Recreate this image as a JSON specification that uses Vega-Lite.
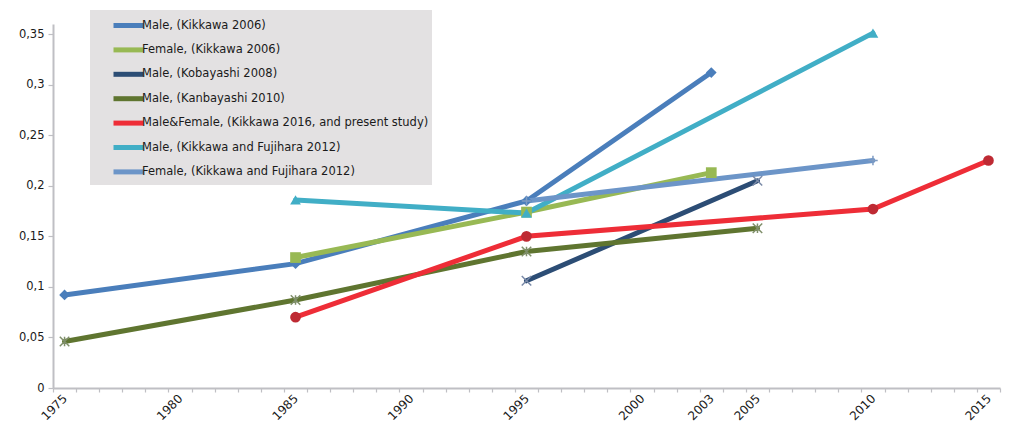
{
  "$schema": "https://vega.github.io/schema/vega-lite/v6.json",
  "width": 947,
  "height": 364,
  "autosize": "none",
  "padding": {"left": 53, "top": 24, "right": 32, "bottom": 46},
  "background": "white",
  "config": {
    "view": {"stroke": null},
    "font": "DejaVu Sans",
    "axis": {"labelFont": "DejaVu Sans", "labelFontSize": 11.5, "labelColor": "#1a1a1a", "domainColor": "#BFBFC4", "domainWidth": 2, "tickColor": "#BFBFC4", "tickWidth": 1.2, "grid": false, "title": null}
  },
  "data": {
    "values": [
      {"series": "Male, (Kikkawa 2006)", "year": 1975, "value": 0.092},
      {"series": "Male, (Kikkawa 2006)", "year": 1985, "value": 0.123},
      {"series": "Male, (Kikkawa 2006)", "year": 1995, "value": 0.185},
      {"series": "Male, (Kikkawa 2006)", "year": 2003, "value": 0.312},
      {"series": "Female, (Kikkawa 2006)", "year": 1985, "value": 0.129},
      {"series": "Female, (Kikkawa 2006)", "year": 1995, "value": 0.174},
      {"series": "Female, (Kikkawa 2006)", "year": 2003, "value": 0.213},
      {"series": "Male, (Kobayashi 2008)", "year": 1995, "value": 0.106},
      {"series": "Male, (Kobayashi 2008)", "year": 2005, "value": 0.205},
      {"series": "Male, (Kanbayashi 2010)", "year": 1975, "value": 0.046},
      {"series": "Male, (Kanbayashi 2010)", "year": 1985, "value": 0.087},
      {"series": "Male, (Kanbayashi 2010)", "year": 1995, "value": 0.135},
      {"series": "Male, (Kanbayashi 2010)", "year": 2005, "value": 0.158},
      {"series": "Male&Female, (Kikkawa 2016, and present study)", "year": 1985, "value": 0.070},
      {"series": "Male&Female, (Kikkawa 2016, and present study)", "year": 1995, "value": 0.150},
      {"series": "Male&Female, (Kikkawa 2016, and present study)", "year": 2010, "value": 0.177},
      {"series": "Male&Female, (Kikkawa 2016, and present study)", "year": 2015, "value": 0.225},
      {"series": "Male, (Kikkawa and Fujihara 2012)", "year": 1985, "value": 0.186},
      {"series": "Male, (Kikkawa and Fujihara 2012)", "year": 1995, "value": 0.173},
      {"series": "Male, (Kikkawa and Fujihara 2012)", "year": 2010, "value": 0.351},
      {"series": "Female, (Kikkawa and Fujihara 2012)", "year": 1995, "value": 0.185},
      {"series": "Female, (Kikkawa and Fujihara 2012)", "year": 2010, "value": 0.225}
    ]
  },
  "resolve": {"axis": {"x": "independent"}, "scale": {"shape": "independent"}},
  "layer": [
    {
      "mark": {"type": "line", "strokeWidth": 5, "strokeCap": "round"},
      "encoding": {
        "x": {"field": "year", "type": "quantitative", "scale": {"domain": [1974.5, 2015.5], "nice": false, "zero": false},
          "axis": {"orient": "bottom", "values": [1975, 1980, 1985, 1990, 1995, 2000, 2003, 2005, 2010, 2015], "ticks": false, "domain": true, "labelAngle": -45, "labelAlign": "right", "labelBaseline": "middle", "labelPadding": 8, "labelFontSize": 12, "format": "d", "labelFlush": false, "labelOverlap": false}},
        "y": {"field": "value", "type": "quantitative", "scale": {"domain": [0, 0.36], "nice": false},
          "axis": {"values": [0, 0.05, 0.1, 0.15, 0.2, 0.25, 0.3, 0.35], "labelExpr": "replace(toString(datum.value), '.', ',')", "tickSize": 5, "labelPadding": 4}},
        "color": {"field": "series", "type": "nominal",
          "scale": {
            "domain": ["Male, (Kikkawa 2006)", "Female, (Kikkawa 2006)", "Male, (Kobayashi 2008)", "Male, (Kanbayashi 2010)", "Male&Female, (Kikkawa 2016, and present study)", "Male, (Kikkawa and Fujihara 2012)", "Female, (Kikkawa and Fujihara 2012)"],
            "range": ["#4A7EBB", "#98B954", "#2C4D75", "#5F7530", "#EE2D37", "#41AEC6", "#6C95C8"]
          },
          "legend": {"orient": "none", "legendX": 37, "legendY": -14, "title": null, "fillColor": "#E3E1E2", "padding": 3, "symbolType": "M-1.5,0L1.5,0", "symbolSize": 400, "symbolStrokeWidth": 5, "symbolOffset": 23, "labelOffset": 1, "labelFont": "DejaVu Sans", "labelFontSize": 11.5, "labelColor": "#1a1a1a", "rowPadding": 1.4, "labelLimit": 400}
        },
        "order": {"field": "year", "type": "quantitative"}
      }
    },
    {
      "transform": [{"filter": "indexof(['Male, (Kobayashi 2008)','Male, (Kanbayashi 2010)','Female, (Kikkawa and Fujihara 2012)'], datum.series) < 0"}],
      "mark": {"type": "point", "filled": true, "opacity": 1, "size": 115},
      "encoding": {
        "x": {"field": "year", "type": "quantitative",
          "axis": {"orient": "bottom", "values": [1974.5, 1975.5, 1976.5, 1977.5, 1978.5, 1979.5, 1980.5, 1981.5, 1982.5, 1983.5, 1984.5, 1985.5, 1986.5, 1987.5, 1988.5, 1989.5, 1990.5, 1991.5, 1992.5, 1993.5, 1994.5, 1995.5, 1996.5, 1997.5, 1998.5, 1999.5, 2000.5, 2001.5, 2002.5, 2003.5, 2004.5, 2005.5, 2006.5, 2007.5, 2008.5, 2009.5, 2010.5, 2011.5, 2012.5, 2013.5, 2014.5, 2015.5], "labels": false, "domain": false, "ticks": true, "tickSize": 4}},
        "y": {"field": "value", "type": "quantitative"},
        "shape": {"field": "series", "type": "nominal", "legend": null,
          "scale": {
            "domain": ["Male, (Kikkawa 2006)", "Female, (Kikkawa 2006)", "Male&Female, (Kikkawa 2016, and present study)", "Male, (Kikkawa and Fujihara 2012)"],
            "range": ["diamond", "square", "circle", "triangle-up"]
          }},
        "fill": {"field": "series", "type": "nominal", "legend": null,
          "scale": {
            "domain": ["Male, (Kikkawa 2006)", "Female, (Kikkawa 2006)", "Male&Female, (Kikkawa 2016, and present study)", "Male, (Kikkawa and Fujihara 2012)"],
            "range": ["#4A7EBB", "#98B954", "#BE2A33", "#41AEC6"]
          }}
      }
    },
    {
      "transform": [{"filter": "indexof(['Male, (Kobayashi 2008)','Male, (Kanbayashi 2010)','Female, (Kikkawa and Fujihara 2012)'], datum.series) >= 0"}],
      "mark": {"type": "point", "filled": false, "opacity": 1, "size": 90, "strokeWidth": 1.5},
      "encoding": {
        "x": {"field": "year", "type": "quantitative", "axis": null},
        "y": {"field": "value", "type": "quantitative"},
        "shape": {"field": "series", "type": "nominal", "legend": null,
          "scale": {
            "domain": ["Male, (Kobayashi 2008)", "Male, (Kanbayashi 2010)", "Female, (Kikkawa and Fujihara 2012)"],
            "range": ["M-1,-1L1,1M-1,1L1,-1", "M-1,-1L1,1M-1,1L1,-1M0,-1L0,1", "M-1,0L1,0M0,-1L0,1"]
          }},
        "stroke": {"field": "series", "type": "nominal", "legend": null,
          "scale": {
            "domain": ["Male, (Kobayashi 2008)", "Male, (Kanbayashi 2010)", "Female, (Kikkawa and Fujihara 2012)"],
            "range": ["#7A8AA8", "#7F8F6A", "#7E9BC2"]
          }}
      }
    }
  ]
}
